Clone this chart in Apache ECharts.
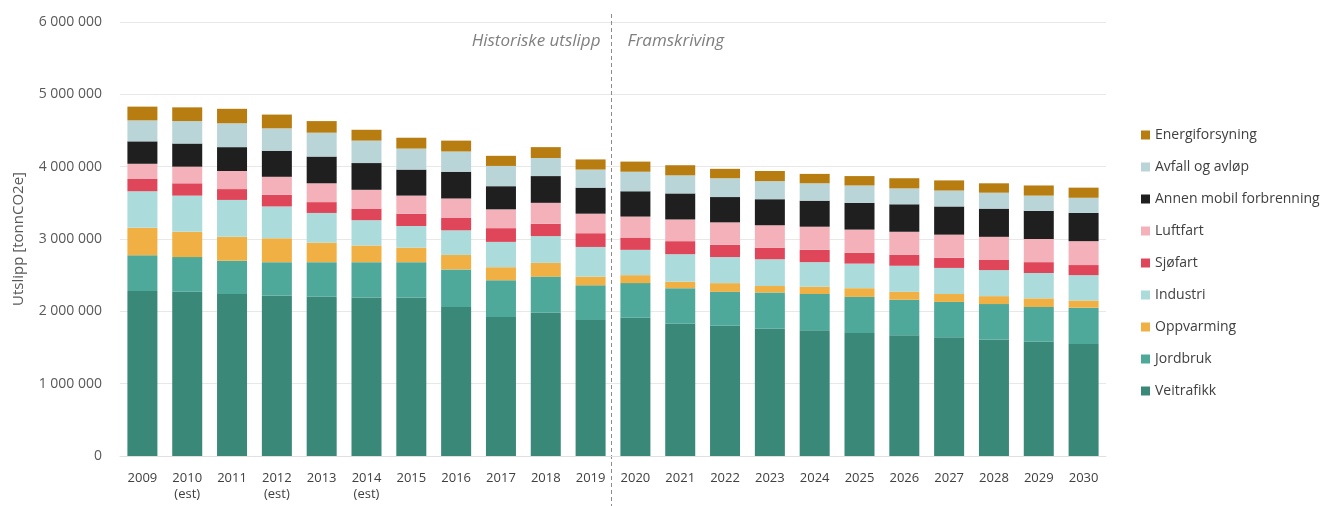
<!DOCTYPE html>
<html>
<head>
<meta charset="utf-8">
<script src="https://cdn.jsdelivr.net/npm/echarts@6/dist/echarts.min.js"></script>
<style>
  html, body { margin: 0; padding: 0; background: #fff; }
  #chart { width: 1329px; height: 506px; }
</style>
</head>
<body>
<div id="chart"></div>
<script>
// Years on the x axis; estimated years carry a second line
const categories = ['2009', '2010\n(est)', '2011', '2012\n(est)', '2013', '2014\n(est)', '2015', '2016', '2017', '2018', '2019',
  '2020', '2021', '2022', '2023', '2024', '2025', '2026', '2027', '2028', '2029', '2030'];

// Emissions per sector, tonn CO2e (stacked bottom to top)
const veitrafikk = [2280000, 2270000, 2240000, 2220000, 2200000, 2190000, 2190000, 2060000, 1920000, 1980000, 1880000,
  1910000, 1830000, 1800000, 1760000, 1740000, 1700000, 1670000, 1640000, 1610000, 1580000, 1550000];
const jordbruk = [495000, 480000, 460000, 460000, 480000, 490000, 490000, 520000, 510000, 500000, 480000,
  480000, 490000, 470000, 500000, 500000, 500000, 490000, 490000, 490000, 480000, 500000];
const oppvarming = [380000, 350000, 330000, 330000, 270000, 230000, 200000, 200000, 180000, 190000, 120000,
  110000, 90000, 120000, 90000, 100000, 120000, 110000, 110000, 110000, 120000, 100000];
const industri = [505000, 500000, 510000, 440000, 410000, 350000, 300000, 340000, 350000, 370000, 410000,
  350000, 380000, 360000, 370000, 340000, 340000, 360000, 360000, 360000, 350000, 350000];
const sjofart = [170000, 170000, 150000, 160000, 150000, 160000, 170000, 170000, 190000, 170000, 190000,
  170000, 180000, 170000, 160000, 170000, 150000, 150000, 140000, 140000, 150000, 140000];
const luftfart = [210000, 230000, 250000, 250000, 260000, 260000, 250000, 270000, 260000, 290000, 270000,
  290000, 300000, 310000, 310000, 320000, 320000, 320000, 320000, 320000, 320000, 330000];
const annenMobil = [310000, 320000, 330000, 360000, 370000, 370000, 360000, 370000, 320000, 370000, 360000,
  350000, 360000, 350000, 360000, 360000, 370000, 380000, 390000, 390000, 390000, 390000];
const avfall = [290000, 310000, 330000, 310000, 330000, 310000, 290000, 280000, 280000, 250000, 250000,
  270000, 250000, 260000, 250000, 240000, 240000, 220000, 220000, 220000, 210000, 210000];
const energi = [190000, 190000, 200000, 190000, 160000, 150000, 150000, 150000, 140000, 150000, 140000,
  140000, 140000, 130000, 140000, 130000, 130000, 140000, 140000, 130000, 140000, 140000];

// Y axis ticks
const yTicks = [0, 1000000, 2000000, 3000000, 4000000, 5000000, 6000000];

const periodLabels = ['Historiske utslipp', 'Framskriving'];
const lastHistoricIndex = 10; // 2019

const sectors = [
  { name: 'Veitrafikk', data: veitrafikk, color: '#3a8878' },
  { name: 'Jordbruk', data: jordbruk, color: '#4ea99b' },
  { name: 'Oppvarming', data: oppvarming, color: '#f1b043' },
  { name: 'Industri', data: industri, color: '#abdbda' },
  { name: 'Sjøfart', data: sjofart, color: '#e0465a' },
  { name: 'Luftfart', data: luftfart, color: '#f4b1ba' },
  { name: 'Annen mobil forbrenning', data: annenMobil, color: '#1f1f1f' },
  { name: 'Avfall og avløp', data: avfall, color: '#bad5d8' },
  { name: 'Energiforsyning', data: energi, color: '#b87d10' }
];

const fmt = v => String(v).replace(/\B(?=(\d{3})+(?!\d))/g, ' ');

const chart = echarts.init(document.getElementById('chart'), null, { renderer: 'canvas' });

chart.setOption({
  animation: false,
  textStyle: { fontFamily: '"Open Sans", sans-serif' },
  grid: { left: 120, right: 223, top: 22, bottom: 50 },
  legend: {
    orient: 'vertical',
    left: 1136,
    top: 122,
    itemWidth: 9,
    itemHeight: 9,
    itemGap: 16,
    icon: 'rect',
    data: sectors.map(s => s.name).reverse(),
    textStyle: { fontSize: 14, color: '#404040', fontFamily: '"Open Sans", sans-serif', lineHeight: 16 }
  },
  xAxis: {
    type: 'category',
    data: categories,
    axisLine: { show: true, lineStyle: { color: '#e0e0e0' } },
    axisTick: { show: false },
    axisLabel: { color: '#404040', fontSize: 13, margin: 14, lineHeight: 16, interval: 0 }
  },
  yAxis: {
    type: 'value',
    min: yTicks[0],
    max: yTicks[yTicks.length - 1],
    interval: yTicks[1] - yTicks[0],
    name: 'Utslipp [tonnCO2e]',
    nameLocation: 'middle',
    nameGap: 94,
    nameTextStyle: { color: '#595959', fontSize: 15 },
    axisLabel: { color: '#595959', fontSize: 14, margin: 18, formatter: v => fmt(v) },
    splitLine: { lineStyle: { color: '#e8e8e8' } }
  },
  series: sectors.map(s => ({
    name: s.name,
    type: 'bar',
    stack: 'total',
    barWidth: 30,
    itemStyle: { color: s.color },
    data: s.data
  }))
});

// Divider between historic and projected years, with period captions
const xA = chart.convertToPixel({ xAxisIndex: 0 }, lastHistoricIndex);
const xB = chart.convertToPixel({ xAxisIndex: 0 }, lastHistoricIndex + 1);
const xDiv = Math.round((xA + xB) / 2) - 1.5;

chart.setOption({
  graphic: [
    {
      type: 'line',
      shape: { x1: xDiv, y1: 14, x2: xDiv, y2: 506 },
      style: { stroke: '#8c8c8c', lineWidth: 1, lineDash: [4, 3] },
      silent: true
    },
    {
      type: 'text',
      x: xDiv - 11,
      y: 41,
      style: {
        text: periodLabels[0], fill: '#7f7f7f', font: 'italic 17px "Open Sans", sans-serif',
        textAlign: 'right', textVerticalAlign: 'middle'
      }
    },
    {
      type: 'text',
      x: xDiv + 16,
      y: 41,
      style: {
        text: periodLabels[1], fill: '#7f7f7f', font: 'italic 17px "Open Sans", sans-serif',
        textAlign: 'left', textVerticalAlign: 'middle'
      }
    }
  ]
});
</script>
</body>
</html>
